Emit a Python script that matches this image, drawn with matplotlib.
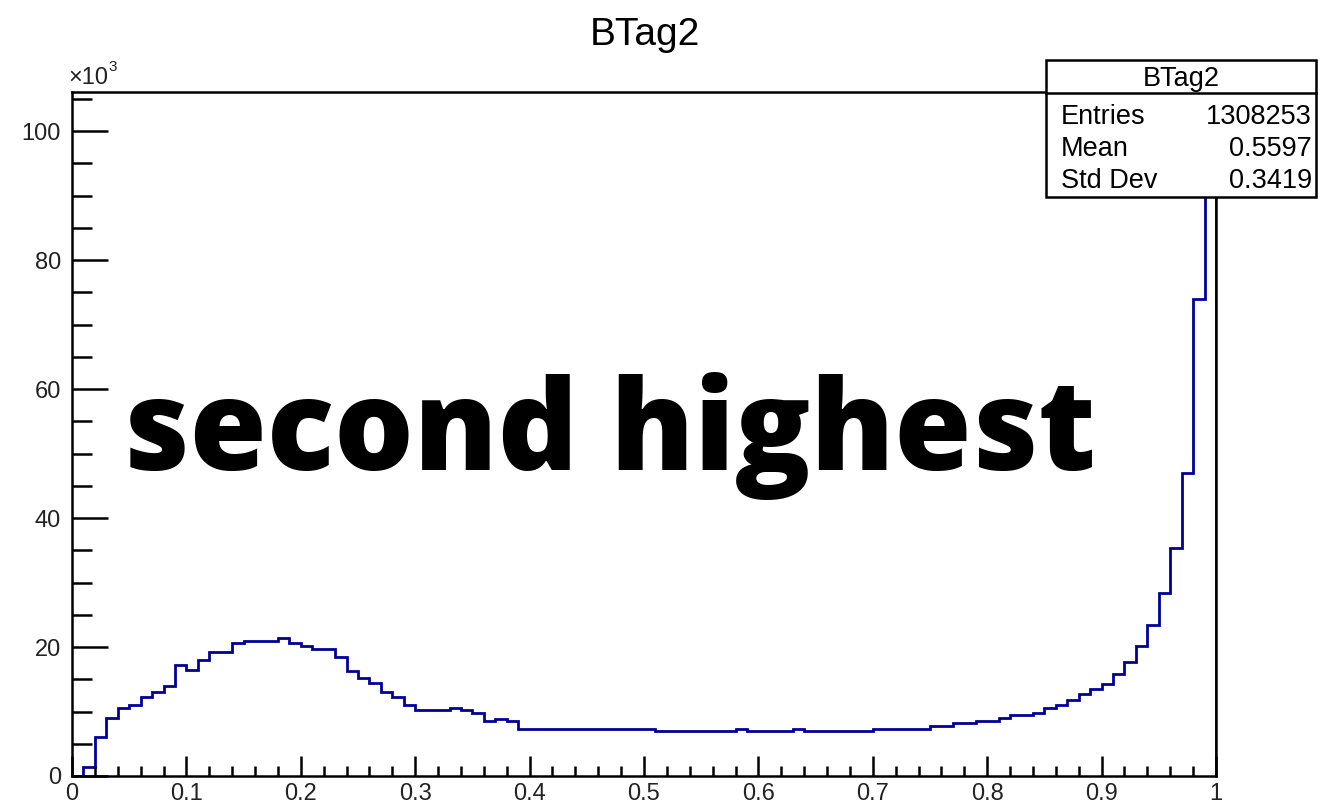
import numpy as np
import matplotlib.pyplot as plt
from matplotlib.patches import Rectangle
from matplotlib.ticker import MultipleLocator

# BTag2 discriminant, 100 bins on [0, 1], counts in units of 10^3
bin_lo, bin_hi, n_bins = 0.0, 1.0, 100
counts_k = [
    0.0, 1.4, 6.1, 9.0, 10.6, 11.0, 12.2, 13.1, 13.9, 17.2,
    16.5, 18.0, 19.3, 19.3, 20.6, 21.0, 21.0, 21.0, 21.4, 20.6,
    20.1, 19.7, 19.7, 18.4, 16.3, 15.2, 14.4, 13.1, 12.2, 11.0,
    10.2, 10.2, 10.2, 10.5, 10.2, 9.7, 8.6, 8.9, 8.5, 7.3,
    7.3, 7.3, 7.3, 7.3, 7.3, 7.3, 7.3, 7.3, 7.3, 7.3,
    7.3, 6.9, 6.9, 6.9, 6.9, 6.9, 6.9, 6.9, 7.3, 6.9,
    6.9, 6.9, 6.9, 7.3, 6.9, 6.9, 6.9, 6.9, 6.9, 6.9,
    7.3, 7.3, 7.3, 7.3, 7.3, 7.8, 7.8, 8.2, 8.2, 8.5,
    8.5, 9.0, 9.5, 9.5, 9.7, 10.6, 11.0, 11.8, 12.7, 13.5,
    14.3, 15.8, 17.6, 20.1, 23.4, 28.4, 35.4, 47.0, 74.0, 101.0,
]

hist_name = 'BTag2'
stat_labels = ['Entries', 'Mean', 'Std Dev']
stat_values = ['1308253', '0.5597', '0.3419']
x_ticks = [0, 0.1, 0.2, 0.3, 0.4, 0.5, 0.6, 0.7, 0.8, 0.9, 1]
x_tick_labels = ['0', '0.1', '0.2', '0.3', '0.4', '0.5', '0.6', '0.7', '0.8', '0.9', '1']
y_ticks = [0, 20, 40, 60, 80, 100]
overlay_text = 'second highest'

plt.rcParams['font.family'] = ['Liberation Sans', 'DejaVu Sans']

W, H = 1327, 806
fig = plt.figure(figsize=(W / 100, H / 100), dpi=100)
ax = fig.add_axes([72 / W, 1 - 776 / H, (1216 - 72) / W, (776 - 92) / H])

edges = np.linspace(bin_lo, bin_hi, n_bins + 1)
ax.stairs(counts_k, edges, color='#000099', lw=2.0)

ax.set_xlim(bin_lo, bin_hi)
ax.set_ylim(0, max(counts_k) * 1.05)

for s in ax.spines.values():
    s.set_linewidth(1.8)

ax.set_xticks(x_ticks)
ax.set_xticklabels(x_tick_labels)
ax.xaxis.set_minor_locator(MultipleLocator(0.02))
ax.set_yticks(y_ticks)
ax.yaxis.set_minor_locator(MultipleLocator(5))
ax.tick_params(axis='both', which='both', direction='in', width=1.8,
               labelsize=17, labelcolor='#222222')
ax.tick_params(axis='x', which='major', length=14.5, pad=5)
ax.tick_params(axis='x', which='minor', length=7.2)
ax.tick_params(axis='y', which='major', length=26, pad=8)
ax.tick_params(axis='y', which='minor', length=14.5)

# exponent label above the y axis
fig.text(68 / W, 1 - 78 / H, '\u00d710', fontsize=17, va='center', ha='left', color='#222222')
fig.text(108 / W, 1 - 67 / H, '3', fontsize=11, va='center', ha='left', color='#222222')

fig.text(645 / W, 1 - 45 / H, hist_name, fontsize=28, ha='center', va='baseline')

# statistics box
bx0, bx1 = 1046 / W, 1316 / W
by0, by1 = 1 - 197 / H, 1 - 60 / H
fig.add_artist(Rectangle((bx0, by0), bx1 - bx0, by1 - by0, transform=fig.transFigure,
                         facecolor='white', edgecolor='black', lw=1.8, zorder=2))
fig.add_artist(plt.Line2D([bx0, bx1], [1 - 93 / H] * 2, transform=fig.transFigure,
                          color='black', lw=1.8, zorder=3))
fig.text((bx0 + bx1) / 2, 1 - 86 / H, hist_name, fontsize=19.5, ha='center', va='baseline', zorder=4)
for i, (lab, val) in enumerate(zip(stat_labels, stat_values)):
    yb = 1 - (124 + 32 * i) / H
    fig.text(1061 / W, yb, lab, fontsize=19.5, ha='left', va='baseline', zorder=4)
    fig.text(1312 / W, yb, val, fontsize=19.5, ha='right', va='baseline', zorder=4)

fig.text(123 / W, 1 - 470 / H, overlay_text, fontsize=90, fontfamily='Open Sans',
         fontweight=800, ha='left', va='baseline', zorder=5)

fig.savefig('out.png', dpi=100)
